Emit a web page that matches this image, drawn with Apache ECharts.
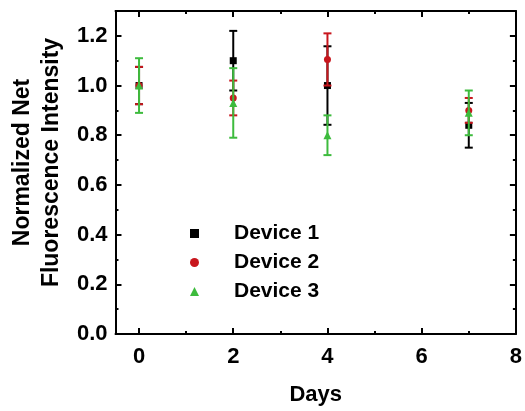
<!DOCTYPE html>
<html>
<head>
<meta charset="utf-8">
<script src="https://cdn.jsdelivr.net/npm/echarts@6/dist/echarts.min.js"></script>
<style>html,body{margin:0;padding:0;background:#fff}#c{width:525px;height:411px}</style>
</head>
<body>
<div id="c"></div>
<script>
const days = [0, 2, 4, 7];
const device1Mean = [1.00, 1.10, 1.00, 0.84];
const device1Err  = [0.075, 0.12, 0.158, 0.09];
const device2Mean = [1.00, 0.95, 1.105, 0.90];
const device2Err  = [0.075, 0.07, 0.105, 0.05];
const device3Mean = [1.00, 0.93, 0.80, 0.89];
const device3Err  = [0.11, 0.14, 0.08, 0.09];
const names = ['Device 1', 'Device 2', 'Device 3'];
const colors = ['#000000', '#c8161d', '#3dbb3d'];
const symbols = ['rect', 'circle', 'triangle'];
const means = [device1Mean, device2Mean, device3Mean];
const errs = [device1Err, device2Err, device3Err];

const FONT = 'Liberation Sans, Arial, sans-serif';

function errRender(color) {
  return function (params, api) {
    const x = api.value(0);
    const lo = api.coord([x, api.value(1)]);
    const hi = api.coord([x, api.value(2)]);
    const w = 4;
    const style = { stroke: color, lineWidth: 2 };
    return {
      type: 'group',
      children: [
        { type: 'line', shape: { x1: lo[0], y1: lo[1], x2: hi[0], y2: hi[1] }, style },
        { type: 'line', shape: { x1: lo[0] - w, y1: lo[1], x2: lo[0] + w, y2: lo[1] }, style },
        { type: 'line', shape: { x1: hi[0] - w, y1: hi[1], x2: hi[0] + w, y2: hi[1] }, style }
      ]
    };
  };
}

const series = [];
for (let i = 0; i < 3; i++) {
  series.push({
    name: names[i],
    type: 'scatter',
    symbol: symbols[i],
    symbolSize: i === 2 ? 8 : 7,
    itemStyle: { color: colors[i], opacity: 1 },
    data: days.map((d, j) => [d, means[i][j]]),
    z: 3 + i * 2
  });
}
for (let i = 0; i < 3; i++) {
  series.push({
    name: names[i] + ' error',
    type: 'custom',
    renderItem: errRender(colors[i]),
    data: days.map((d, j) => [d, means[i][j] - errs[i][j], means[i][j] + errs[i][j]]),
    encode: { x: 0, y: [1, 2] },
    z: 2 + i * 2
  });
}

const axisLineStyle = { color: '#000', width: 2 };
const tickCommon = { show: true, inside: true, length: 6, lineStyle: { color: '#000', width: 2 } };
const minorCommon = { show: true, splitNumber: 2, length: 3, lineStyle: { color: '#000', width: 2 } };

const option = {
  animation: false,
  backgroundColor: '#fff',
  textStyle: { fontFamily: FONT },
  grid: { left: 114, right: 6, top: 11, bottom: 71, containLabel: false },
  legend: {
    orient: 'vertical',
    left: 185,
    top: 218,
    itemGap: 8,
    itemWidth: 9,
    itemHeight: 9,
    data: names.map((n, i) => ({ name: n, icon: symbols[i], itemStyle: { color: colors[i], opacity: 1 } })),
    textStyle: { fontFamily: FONT, fontSize: 21, fontWeight: 'bold', color: '#000', padding: [0, 0, 0, 30] }
  },
  xAxis: [{
    type: 'value', min: -0.5, max: 8,
    name: 'Days', nameLocation: 'middle', nameGap: 50,
    nameTextStyle: { fontFamily: FONT, fontSize: 22, fontWeight: 'bold', color: '#000' },
    axisLine: { onZero: false, lineStyle: axisLineStyle },
    axisTick: tickCommon,
    minorTick: minorCommon,
    splitLine: { show: false },
    axisLabel: { showMinLabel: false, margin: 12, fontFamily: FONT, fontSize: 22, fontWeight: 'bold', color: '#000' }
  }, {
    type: 'value', min: -0.5, max: 8, position: 'top',
    axisLine: { onZero: false, lineStyle: axisLineStyle },
    axisTick: tickCommon,
    minorTick: minorCommon,
    splitLine: { show: false },
    axisLabel: { show: false }
  }],
  yAxis: [{
    type: 'value', min: 0, max: 1.3, interval: 0.2,
    name: 'Normalized Net\nFluorescence Intensity', nameLocation: 'middle', nameGap: 45, nameRotate: 90,
    nameTextStyle: { fontFamily: FONT, fontSize: 23, fontWeight: 'bold', color: '#000', lineHeight: 29, padding: [0, 0, 0, 20] },
    axisLine: { onZero: false, lineStyle: axisLineStyle },
    axisTick: tickCommon,
    minorTick: minorCommon,
    splitLine: { show: false },
    axisLabel: { showMaxLabel: false, margin: 8, formatter: v => v.toFixed(1), fontFamily: FONT, fontSize: 22, fontWeight: 'bold', color: '#000' }
  }, {
    type: 'value', min: 0, max: 1.3, interval: 0.2, position: 'right',
    axisLine: { onZero: false, lineStyle: axisLineStyle },
    axisTick: tickCommon,
    minorTick: minorCommon,
    splitLine: { show: false },
    axisLabel: { show: false }
  }],
  series
};

const chart = echarts.init(document.getElementById('c'), null, { renderer: 'canvas' });
chart.setOption(option);
</script>
</body>
</html>
